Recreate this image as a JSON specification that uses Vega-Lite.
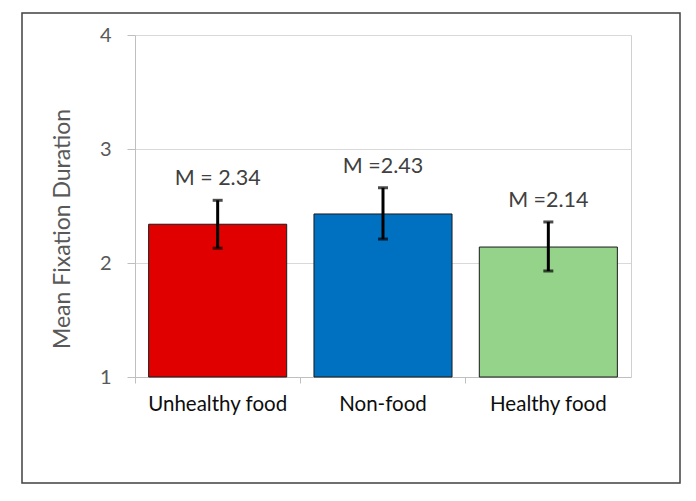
{
  "$schema": "https://vega.github.io/schema/vega-lite/v6.json",
  "width": 658,
  "height": 470,
  "autosize": {"type": "none"},
  "padding": {"left": 22, "top": 13, "right": 16, "bottom": 18},
  "background": "white",
  "config": {"view": {"stroke": "#404040", "strokeWidth": 1.5}, "font": "Lato"},
  "data": {"values": [
    {"cat": "Unhealthy food", "mean": 2.34, "lo": 2.13, "hi": 2.55, "label": "M = 2.34"},
    {"cat": "Non-food", "mean": 2.43, "lo": 2.21, "hi": 2.66, "label": "M =2.43"},
    {"cat": "Healthy food", "mean": 2.14, "lo": 1.93, "hi": 2.36, "label": "M =2.14"}
  ]},
  "encoding": {
    "x": {"field": "cat", "type": "nominal", "sort": null, "title": null,
      "scale": {"range": [113, 609], "paddingInner": 0, "paddingOuter": 0}}
  },
  "layer": [
    {
      "mark": {"type": "bar", "width": {"band": 0.835}, "stroke": "#1a1a1a", "strokeWidth": 1},
      "encoding": {
        "x": {"field": "cat", "type": "nominal", "sort": null, "title": null,
          "axis": {"orient": "bottom", "offset": -106, "bandPosition": 0, "labelFontSize": 20.5, "labelColor": "#0d0d0d", "labelPadding": 11, "tickSize": 6, "tickColor": "#bfbfbf", "domainColor": "#bfbfbf", "labelAngle": 0, "grid": false, "labelFont": "Lato"}},
        "y": {"field": "mean", "type": "quantitative",
          "scale": {"domain": [1, 4], "range": [364, 22], "zero": false, "nice": false},
          "axis": {"orient": "left", "offset": -113, "values": [1, 2, 3, 4], "format": "d", "title": "Mean Fixation Duration", "titleFont": "Lato", "titleFontSize": 23, "titleFontWeight": "normal", "titleColor": "#595959", "titleX": -65.5, "titleY": 215.5, "titleAngle": 270, "titleBaseline": "alphabetic", "titleAlign": "center", "labelFont": "Lato", "labelFontSize": 20, "labelColor": "#595959", "labelPadding": 16, "labelBaseline": "middle", "tickSize": 8, "tickColor": "#bfbfbf", "domainColor": "#bfbfbf", "grid": true, "gridColor": "#d9d9d9"}},
        "y2": {"datum": 1},
        "color": {"field": "cat", "type": "nominal", "sort": null, "legend": null,
          "scale": {"domain": ["Unhealthy food", "Non-food", "Healthy food"], "range": ["#E00000", "#0070C0", "#96D38A"]}}
      }
    },
    {
      "mark": {"type": "rule", "color": "#000000", "strokeWidth": 3},
      "encoding": {
        "y": {"field": "lo", "type": "quantitative",
          "axis": {"orient": "right", "offset": -49, "labels": false, "ticks": false, "grid": false, "title": null, "domainColor": "#d0d0d0"}},
        "y2": {"field": "hi"}
      }
    },
    {
      "mark": {"type": "tick", "color": "#000000", "thickness": 3, "size": 10},
      "encoding": {"y": {"field": "lo", "type": "quantitative", "axis": null}}
    },
    {
      "mark": {"type": "tick", "color": "#000000", "thickness": 3, "size": 10},
      "encoding": {"y": {"field": "hi", "type": "quantitative", "axis": null}}
    },
    {
      "mark": {"type": "text", "font": "Lato", "fontSize": 21.5, "color": "#404040", "baseline": "alphabetic", "dy": -15},
      "encoding": {
        "y": {"field": "hi", "type": "quantitative", "axis": null},
        "text": {"field": "label"}
      }
    }
  ],
  "resolve": {"axis": {"y": "independent"}}
}
